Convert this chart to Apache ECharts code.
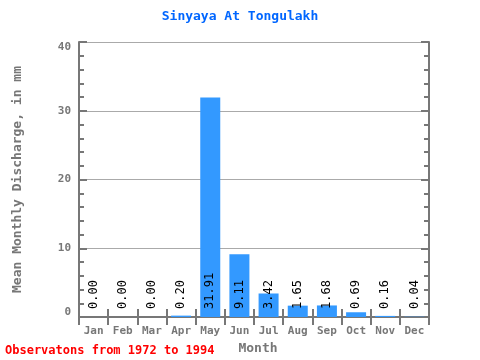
<!DOCTYPE html>
<html><head><meta charset="utf-8">
<script src="https://cdn.jsdelivr.net/npm/echarts@6/dist/echarts.min.js"></script>
<style>html,body{margin:0;padding:0;background:#fff}#c{width:480px;height:360px}</style>
</head><body><div id="c"></div>
<script>
var months = ['Jan','Feb','Mar','Apr','May','Jun','Jul','Aug','Sep','Oct','Nov','Dec'];
var discharge = [0.00,0.00,0.00,0.20,31.91,9.11,3.42,1.65,1.68,0.69,0.16,0.04];
var yTicks = [0,10,20,30,40];
var titleText = 'Sinyaya At Tongulakh';
var footerText = 'Observatons from 1972 to 1994';

var FONT = 'DejaVu Sans Mono';
var AX = '#777777';
var chart = echarts.init(document.getElementById('c'));
chart.setOption({
  animation:false,
  backgroundColor:'#ffffff',
  title:[
    {text:titleText,left:'center',top:5,textStyle:{fontFamily:FONT,fontSize:13,fontWeight:'bold',color:'#0066ff'}},
    {text:footerText,left:0,top:340,textStyle:{fontFamily:FONT,fontSize:12,fontWeight:'bold',color:'#ff0000'}}
  ],
  grid:{left:79,right:51,top:42,bottom:38},
  xAxis:[
    {type:'category',data:months,position:'bottom',
     name:'Month',nameLocation:'middle',nameGap:25,
     nameTextStyle:{fontFamily:FONT,fontSize:13,fontWeight:'bold',color:AX,padding:[0,0,0,8]},
     axisLine:{lineStyle:{color:AX,width:2}},
     axisTick:{show:true,inside:true,length:8,interval:0,lineStyle:{color:AX,width:2}},
     axisLabel:{fontFamily:FONT,fontSize:11,fontWeight:'bold',color:AX,margin:9,interval:0}},
    {type:'category',data:months,position:'top',
     axisLine:{lineStyle:{color:AX,width:2}},
     axisTick:{show:true,inside:true,length:8,interval:0,lineStyle:{color:AX,width:2}},
     axisLabel:{show:false}}
  ],
  yAxis:[
    {type:'value',min:0,max:40,interval:10,position:'left',
     name:'Mean Monthly Discharge, in mm',nameLocation:'middle',nameGap:55,
     nameTextStyle:{fontFamily:FONT,fontSize:13,fontWeight:'bold',color:AX},
     axisLine:{show:true,lineStyle:{color:AX,width:2}},
     axisTick:{show:true,inside:true,length:8,lineStyle:{color:AX,width:2}},
     minorTick:{show:true,splitNumber:5,length:5,lineStyle:{color:AX,width:2}},
     splitLine:{show:true,lineStyle:{color:'#aaaaaa',width:1}},
     axisLabel:{fontFamily:FONT,fontSize:11,fontWeight:'bold',color:AX,margin:8,
       formatter:function(v){
         if(yTicks.indexOf(v)<0) return '';
         if(v===40) return '{t|'+v+'}';
         if(v===0) return '{b|'+v+'}';
         return '{m|'+v+'}';
       },
       rich:{
         t:{fontFamily:FONT,fontSize:11,fontWeight:'bold',color:AX,padding:[10,0,0,0]},
         b:{fontFamily:FONT,fontSize:11,fontWeight:'bold',color:AX,padding:[0,0,10,0]},
         m:{fontFamily:FONT,fontSize:11,fontWeight:'bold',color:AX}
       }}},
    {type:'value',min:0,max:40,interval:10,position:'right',
     axisLine:{show:true,lineStyle:{color:AX,width:2}},
     axisTick:{show:true,inside:true,length:8,lineStyle:{color:AX,width:2}},
     minorTick:{show:true,splitNumber:5,length:5,lineStyle:{color:AX,width:2}},
     splitLine:{show:false},
     axisLabel:{show:false}}
  ],
  series:[{
    type:'bar',data:discharge,barWidth:20,
    itemStyle:{color:'#3399ff'},
    label:{show:true,position:'insideBottom',rotate:90,align:'left',verticalAlign:'middle',distance:8,
      fontFamily:FONT,fontSize:12,color:'#000000',
      formatter:function(p){return p.value.toFixed(2);}}
  }]
});
</script></body></html>
